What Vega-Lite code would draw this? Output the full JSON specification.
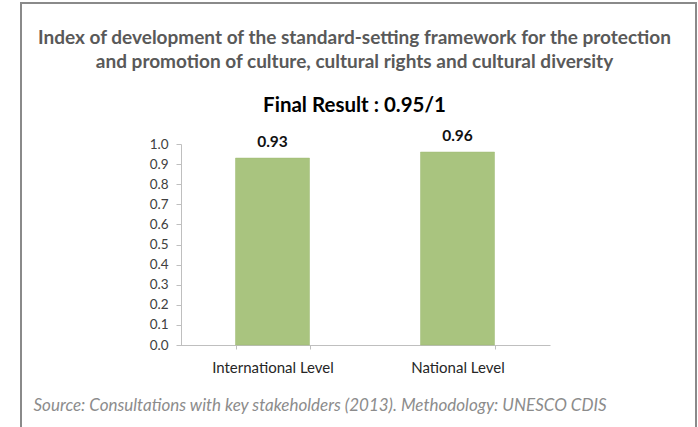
{
  "$schema": "https://vega.github.io/schema/vega-lite/v6.json",
  "autosize": "none",
  "width": 675,
  "height": 430,
  "padding": {"left": 21, "top": 3, "right": 2, "bottom": 0},
  "background": "white",
  "config": {
    "font": "Lato",
    "view": {"stroke": "#8a8a8a", "strokeWidth": 2}
  },
  "title": {
    "text": [
      "Index of development of the standard-setting framework for the protection",
      "and promotion of culture, cultural rights and cultural diversity"
    ],
    "subtitle": "Final Result : 0.95/1",
    "anchor": "middle",
    "dx": -4,
    "offset": -113,
    "font": "Lato",
    "fontSize": 19,
    "fontWeight": "bold",
    "color": "#595959",
    "lineHeight": 24,
    "subtitleFont": "Lato",
    "subtitleFontSize": 20.5,
    "subtitleFontWeight": "bold",
    "subtitleColor": "#000000",
    "subtitlePadding": 24
  },
  "data": {
    "values": [
      {"level": "International Level", "score": 0.93},
      {"level": "National Level", "score": 0.96}
    ]
  },
  "encoding": {
    "x": {
      "field": "level",
      "type": "nominal",
      "sort": null,
      "scale": {"range": [159, 529], "paddingInner": 0.6, "paddingOuter": 0.3},
      "axis": {
        "offset": -88,
        "labelAngle": 0,
        "labelFontSize": 15,
        "labelColor": "#262626",
        "labelPadding": 11,
        "domainColor": "#bfbfbf",
        "tickColor": "#bfbfbf",
        "tickSize": 4,
        "tickBand": "extent",
        "title": "Source: Consultations with key stakeholders (2013). Methodology: UNESCO CDIS",
        "titleFontSize": 17,
        "titleFontWeight": "normal",
        "titleFontStyle": "italic",
        "titleColor": "#8c8c8c",
        "titleAlign": "left",
        "titleAnchor": "start",
        "titleBaseline": "alphabetic",
        "titleX": 12,
        "titleY": 65
      }
    },
    "y": {
      "field": "score",
      "type": "quantitative",
      "scale": {"domain": [0, 1], "range": [342, 141], "nice": false, "zero": true},
      "axis": {
        "offset": -160,
        "values": [0, 0.1, 0.2, 0.3, 0.4, 0.5, 0.6, 0.7, 0.8, 0.9, 1.0],
        "format": ".1f",
        "grid": false,
        "title": null,
        "labelFontSize": 13.5,
        "labelColor": "#404040",
        "labelPadding": 8,
        "domainColor": "#bfbfbf",
        "tickColor": "#bfbfbf",
        "tickSize": 5
      }
    }
  },
  "layer": [
    {
      "mark": {"type": "bar", "color": "#a9c47f", "stroke": "#9fbb74", "strokeWidth": 0.5}
    },
    {
      "mark": {"type": "text", "fontSize": 15.5, "fontWeight": "bold", "color": "#111111", "baseline": "alphabetic", "dy": -11},
      "encoding": {"text": {"field": "score", "type": "quantitative", "format": ".2f"}}
    }
  ]
}
